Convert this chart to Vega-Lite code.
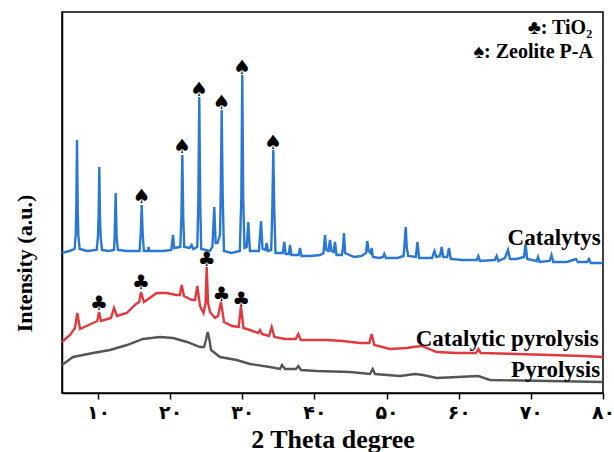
{
  "$schema": "https://vega.github.io/schema/vega-lite/v6.json",
  "width": 541,
  "height": 381,
  "autosize": {"type": "none"},
  "padding": {"left": 62, "top": 12, "right": 11, "bottom": 59},
  "background": "white",
  "config": {
    "view": {"stroke": "black", "strokeWidth": 1.5},
    "font": "Liberation Serif"
  },
  "datasets": {
    "lines": [
      {"s": "Catalytys", "x": 5.0, "y": 140}, {"s": "Catalytys", "x": 6.0, "y": 142}, {"s": "Catalytys", "x": 6.75, "y": 144}, {"s": "Catalytys", "x": 6.9, "y": 158}, {"s": "Catalytys", "x": 6.98, "y": 185}, {"s": "Catalytys", "x": 7.08, "y": 253}, {"s": "Catalytys", "x": 7.18, "y": 185}, {"s": "Catalytys", "x": 7.26, "y": 158}, {"s": "Catalytys", "x": 7.45, "y": 144},
      {"s": "Catalytys", "x": 8.5, "y": 142}, {"s": "Catalytys", "x": 9.8, "y": 143}, {"s": "Catalytys", "x": 9.98, "y": 156}, {"s": "Catalytys", "x": 10.07, "y": 175}, {"s": "Catalytys", "x": 10.17, "y": 226}, {"s": "Catalytys", "x": 10.27, "y": 175}, {"s": "Catalytys", "x": 10.36, "y": 156}, {"s": "Catalytys", "x": 10.55, "y": 143},
      {"s": "Catalytys", "x": 11.5, "y": 142}, {"s": "Catalytys", "x": 12.2, "y": 143}, {"s": "Catalytys", "x": 12.3, "y": 155}, {"s": "Catalytys", "x": 12.44, "y": 200}, {"s": "Catalytys", "x": 12.58, "y": 155}, {"s": "Catalytys", "x": 12.75, "y": 143},
      {"s": "Catalytys", "x": 14.0, "y": 142}, {"s": "Catalytys", "x": 15.75, "y": 142}, {"s": "Catalytys", "x": 15.92, "y": 160}, {"s": "Catalytys", "x": 16.05, "y": 188}, {"s": "Catalytys", "x": 16.18, "y": 160}, {"s": "Catalytys", "x": 16.35, "y": 142},
      {"s": "Catalytys", "x": 16.9, "y": 142}, {"s": "Catalytys", "x": 17.0, "y": 146}, {"s": "Catalytys", "x": 17.15, "y": 142}, {"s": "Catalytys", "x": 19.0, "y": 142}, {"s": "Catalytys", "x": 20.15, "y": 143}, {"s": "Catalytys", "x": 20.39, "y": 158}, {"s": "Catalytys", "x": 20.55, "y": 145},
      {"s": "Catalytys", "x": 21.4, "y": 146}, {"s": "Catalytys", "x": 21.55, "y": 175}, {"s": "Catalytys", "x": 21.68, "y": 238}, {"s": "Catalytys", "x": 21.81, "y": 175}, {"s": "Catalytys", "x": 21.95, "y": 146},
      {"s": "Catalytys", "x": 22.7, "y": 145}, {"s": "Catalytys", "x": 22.98, "y": 148}, {"s": "Catalytys", "x": 23.2, "y": 144}, {"s": "Catalytys", "x": 23.75, "y": 146}, {"s": "Catalytys", "x": 23.9, "y": 190}, {"s": "Catalytys", "x": 24.03, "y": 296}, {"s": "Catalytys", "x": 24.16, "y": 190}, {"s": "Catalytys", "x": 24.3, "y": 144},
      {"s": "Catalytys", "x": 25.5, "y": 142}, {"s": "Catalytys", "x": 25.85, "y": 146}, {"s": "Catalytys", "x": 26.11, "y": 186}, {"s": "Catalytys", "x": 26.3, "y": 150}, {"s": "Catalytys", "x": 26.55, "y": 150}, {"s": "Catalytys", "x": 26.9, "y": 158}, {"s": "Catalytys", "x": 27.01, "y": 200}, {"s": "Catalytys", "x": 27.14, "y": 283}, {"s": "Catalytys", "x": 27.27, "y": 200}, {"s": "Catalytys", "x": 27.45, "y": 142},
      {"s": "Catalytys", "x": 28.5, "y": 140}, {"s": "Catalytys", "x": 29.65, "y": 142}, {"s": "Catalytys", "x": 29.86, "y": 195}, {"s": "Catalytys", "x": 29.99, "y": 318}, {"s": "Catalytys", "x": 30.12, "y": 195}, {"s": "Catalytys", "x": 30.3, "y": 145},
      {"s": "Catalytys", "x": 30.6, "y": 146}, {"s": "Catalytys", "x": 30.83, "y": 171}, {"s": "Catalytys", "x": 31.05, "y": 142}, {"s": "Catalytys", "x": 32.3, "y": 142}, {"s": "Catalytys", "x": 32.59, "y": 172}, {"s": "Catalytys", "x": 32.8, "y": 144},
      {"s": "Catalytys", "x": 33.2, "y": 143}, {"s": "Catalytys", "x": 33.38, "y": 150}, {"s": "Catalytys", "x": 33.55, "y": 142}, {"s": "Catalytys", "x": 34.0, "y": 143}, {"s": "Catalytys", "x": 34.16, "y": 185}, {"s": "Catalytys", "x": 34.29, "y": 243}, {"s": "Catalytys", "x": 34.42, "y": 185}, {"s": "Catalytys", "x": 34.6, "y": 140},
      {"s": "Catalytys", "x": 35.6, "y": 140}, {"s": "Catalytys", "x": 35.82, "y": 151}, {"s": "Catalytys", "x": 36.0, "y": 139}, {"s": "Catalytys", "x": 36.45, "y": 139}, {"s": "Catalytys", "x": 36.61, "y": 148}, {"s": "Catalytys", "x": 36.8, "y": 138},
      {"s": "Catalytys", "x": 37.8, "y": 138}, {"s": "Catalytys", "x": 37.99, "y": 145}, {"s": "Catalytys", "x": 38.2, "y": 137}, {"s": "Catalytys", "x": 39.5, "y": 137}, {"s": "Catalytys", "x": 40.8, "y": 138},
      {"s": "Catalytys", "x": 41.25, "y": 140}, {"s": "Catalytys", "x": 41.46, "y": 158}, {"s": "Catalytys", "x": 41.65, "y": 143}, {"s": "Catalytys", "x": 41.95, "y": 142}, {"s": "Catalytys", "x": 42.15, "y": 153}, {"s": "Catalytys", "x": 42.35, "y": 142}, {"s": "Catalytys", "x": 42.65, "y": 141}, {"s": "Catalytys", "x": 42.85, "y": 151}, {"s": "Catalytys", "x": 43.05, "y": 138},
      {"s": "Catalytys", "x": 43.8, "y": 138}, {"s": "Catalytys", "x": 43.95, "y": 145}, {"s": "Catalytys", "x": 44.09, "y": 160}, {"s": "Catalytys", "x": 44.25, "y": 140}, {"s": "Catalytys", "x": 45.5, "y": 136}, {"s": "Catalytys", "x": 46.5, "y": 137},
      {"s": "Catalytys", "x": 47.15, "y": 140}, {"s": "Catalytys", "x": 47.32, "y": 152}, {"s": "Catalytys", "x": 47.5, "y": 142}, {"s": "Catalytys", "x": 47.78, "y": 140}, {"s": "Catalytys", "x": 47.93, "y": 145}, {"s": "Catalytys", "x": 48.1, "y": 136},
      {"s": "Catalytys", "x": 49.0, "y": 135}, {"s": "Catalytys", "x": 49.5, "y": 136}, {"s": "Catalytys", "x": 49.68, "y": 139}, {"s": "Catalytys", "x": 49.9, "y": 135}, {"s": "Catalytys", "x": 51.5, "y": 135},
      {"s": "Catalytys", "x": 52.35, "y": 137}, {"s": "Catalytys", "x": 52.5, "y": 150}, {"s": "Catalytys", "x": 52.65, "y": 166}, {"s": "Catalytys", "x": 52.8, "y": 145}, {"s": "Catalytys", "x": 53.0, "y": 137},
      {"s": "Catalytys", "x": 54.05, "y": 136}, {"s": "Catalytys", "x": 54.28, "y": 151}, {"s": "Catalytys", "x": 54.5, "y": 135}, {"s": "Catalytys", "x": 56.3, "y": 135}, {"s": "Catalytys", "x": 56.64, "y": 142}, {"s": "Catalytys", "x": 56.9, "y": 136},
      {"s": "Catalytys", "x": 57.4, "y": 137}, {"s": "Catalytys", "x": 57.64, "y": 146}, {"s": "Catalytys", "x": 57.85, "y": 136}, {"s": "Catalytys", "x": 58.4, "y": 136}, {"s": "Catalytys", "x": 58.65, "y": 145}, {"s": "Catalytys", "x": 58.9, "y": 134},
      {"s": "Catalytys", "x": 60.5, "y": 133}, {"s": "Catalytys", "x": 62.5, "y": 133}, {"s": "Catalytys", "x": 62.71, "y": 137}, {"s": "Catalytys", "x": 62.95, "y": 132}, {"s": "Catalytys", "x": 65.0, "y": 133}, {"s": "Catalytys", "x": 65.26, "y": 137}, {"s": "Catalytys", "x": 65.5, "y": 132},
      {"s": "Catalytys", "x": 66.4, "y": 135}, {"s": "Catalytys", "x": 66.83, "y": 143}, {"s": "Catalytys", "x": 67.1, "y": 134}, {"s": "Catalytys", "x": 68.0, "y": 134}, {"s": "Catalytys", "x": 69.05, "y": 136}, {"s": "Catalytys", "x": 69.26, "y": 149}, {"s": "Catalytys", "x": 69.5, "y": 134},
      {"s": "Catalytys", "x": 70.8, "y": 132}, {"s": "Catalytys", "x": 70.99, "y": 136}, {"s": "Catalytys", "x": 71.2, "y": 131}, {"s": "Catalytys", "x": 72.6, "y": 132}, {"s": "Catalytys", "x": 72.86, "y": 138}, {"s": "Catalytys", "x": 73.1, "y": 131},
      {"s": "Catalytys", "x": 75.0, "y": 131}, {"s": "Catalytys", "x": 76.26, "y": 134}, {"s": "Catalytys", "x": 76.5, "y": 131}, {"s": "Catalytys", "x": 77.8, "y": 131}, {"s": "Catalytys", "x": 78.06, "y": 134}, {"s": "Catalytys", "x": 78.3, "y": 130}, {"s": "Catalytys", "x": 80.0, "y": 130},

      {"s": "Catalytic pyrolysis", "x": 5.0, "y": 51}, {"s": "Catalytic pyrolysis", "x": 6.11, "y": 58}, {"s": "Catalytic pyrolysis", "x": 6.8, "y": 65}, {"s": "Catalytic pyrolysis", "x": 7.12, "y": 80}, {"s": "Catalytic pyrolysis", "x": 7.5, "y": 64},
      {"s": "Catalytic pyrolysis", "x": 9.3, "y": 70}, {"s": "Catalytic pyrolysis", "x": 9.9, "y": 72}, {"s": "Catalytic pyrolysis", "x": 10.13, "y": 81}, {"s": "Catalytic pyrolysis", "x": 10.41, "y": 72}, {"s": "Catalytic pyrolysis", "x": 11.79, "y": 75}, {"s": "Catalytic pyrolysis", "x": 12.21, "y": 85}, {"s": "Catalytic pyrolysis", "x": 12.62, "y": 77},
      {"s": "Catalytic pyrolysis", "x": 13.97, "y": 80}, {"s": "Catalytic pyrolysis", "x": 15.26, "y": 89}, {"s": "Catalytic pyrolysis", "x": 15.7, "y": 91}, {"s": "Catalytic pyrolysis", "x": 15.95, "y": 101}, {"s": "Catalytic pyrolysis", "x": 16.37, "y": 91}, {"s": "Catalytic pyrolysis", "x": 18.13, "y": 100}, {"s": "Catalytic pyrolysis", "x": 19.51, "y": 100},
      {"s": "Catalytic pyrolysis", "x": 20.8, "y": 98}, {"s": "Catalytic pyrolysis", "x": 21.35, "y": 98}, {"s": "Catalytic pyrolysis", "x": 21.59, "y": 108}, {"s": "Catalytic pyrolysis", "x": 21.91, "y": 97}, {"s": "Catalytic pyrolysis", "x": 23.02, "y": 93}, {"s": "Catalytic pyrolysis", "x": 23.45, "y": 93}, {"s": "Catalytic pyrolysis", "x": 23.76, "y": 107}, {"s": "Catalytic pyrolysis", "x": 24.13, "y": 87},
      {"s": "Catalytic pyrolysis", "x": 24.62, "y": 80}, {"s": "Catalytic pyrolysis", "x": 24.9, "y": 90}, {"s": "Catalytic pyrolysis", "x": 25.06, "y": 126}, {"s": "Catalytic pyrolysis", "x": 25.25, "y": 90}, {"s": "Catalytic pyrolysis", "x": 25.52, "y": 81}, {"s": "Catalytic pyrolysis", "x": 26.21, "y": 75}, {"s": "Catalytic pyrolysis", "x": 26.63, "y": 77},
      {"s": "Catalytic pyrolysis", "x": 27.04, "y": 91}, {"s": "Catalytic pyrolysis", "x": 27.46, "y": 71}, {"s": "Catalytic pyrolysis", "x": 28.57, "y": 67}, {"s": "Catalytic pyrolysis", "x": 29.5, "y": 66}, {"s": "Catalytic pyrolysis", "x": 29.81, "y": 87}, {"s": "Catalytic pyrolysis", "x": 30.15, "y": 65},
      {"s": "Catalytic pyrolysis", "x": 31.06, "y": 63}, {"s": "Catalytic pyrolysis", "x": 32.2, "y": 60}, {"s": "Catalytic pyrolysis", "x": 32.45, "y": 63}, {"s": "Catalytic pyrolysis", "x": 32.7, "y": 59}, {"s": "Catalytic pyrolysis", "x": 33.7, "y": 57}, {"s": "Catalytic pyrolysis", "x": 34.07, "y": 66}, {"s": "Catalytic pyrolysis", "x": 34.45, "y": 56},
      {"s": "Catalytic pyrolysis", "x": 35.92, "y": 54}, {"s": "Catalytic pyrolysis", "x": 37.4, "y": 54}, {"s": "Catalytic pyrolysis", "x": 37.76, "y": 59}, {"s": "Catalytic pyrolysis", "x": 38.1, "y": 53}, {"s": "Catalytic pyrolysis", "x": 41.7, "y": 53}, {"s": "Catalytic pyrolysis", "x": 43.95, "y": 52},
      {"s": "Catalytic pyrolysis", "x": 46.31, "y": 50}, {"s": "Catalytic pyrolysis", "x": 47.6, "y": 50}, {"s": "Catalytic pyrolysis", "x": 47.93, "y": 59}, {"s": "Catalytic pyrolysis", "x": 48.3, "y": 48}, {"s": "Catalytic pyrolysis", "x": 50.47, "y": 44},
      {"s": "Catalytic pyrolysis", "x": 52.78, "y": 45}, {"s": "Catalytic pyrolysis", "x": 53.66, "y": 46}, {"s": "Catalytic pyrolysis", "x": 54.86, "y": 47}, {"s": "Catalytic pyrolysis", "x": 56.94, "y": 41}, {"s": "Catalytic pyrolysis", "x": 59.72, "y": 40},
      {"s": "Catalytic pyrolysis", "x": 62.4, "y": 40}, {"s": "Catalytic pyrolysis", "x": 62.71, "y": 44}, {"s": "Catalytic pyrolysis", "x": 63.05, "y": 40}, {"s": "Catalytic pyrolysis", "x": 68.03, "y": 39}, {"s": "Catalytic pyrolysis", "x": 72.65, "y": 38}, {"s": "Catalytic pyrolysis", "x": 77.23, "y": 37}, {"s": "Catalytic pyrolysis", "x": 80.0, "y": 36},

      {"s": "Pyrolysis", "x": 5.0, "y": 28}, {"s": "Pyrolysis", "x": 6.52, "y": 36}, {"s": "Pyrolysis", "x": 9.3, "y": 40}, {"s": "Pyrolysis", "x": 11.65, "y": 43}, {"s": "Pyrolysis", "x": 14.01, "y": 48}, {"s": "Pyrolysis", "x": 16.23, "y": 54}, {"s": "Pyrolysis", "x": 18.59, "y": 56},
      {"s": "Pyrolysis", "x": 20.39, "y": 55}, {"s": "Pyrolysis", "x": 22.33, "y": 51}, {"s": "Pyrolysis", "x": 24.13, "y": 46}, {"s": "Pyrolysis", "x": 24.69, "y": 46}, {"s": "Pyrolysis", "x": 24.96, "y": 53}, {"s": "Pyrolysis", "x": 25.2, "y": 61}, {"s": "Pyrolysis", "x": 25.45, "y": 53}, {"s": "Pyrolysis", "x": 25.66, "y": 43},
      {"s": "Pyrolysis", "x": 26.9, "y": 36}, {"s": "Pyrolysis", "x": 29.22, "y": 33}, {"s": "Pyrolysis", "x": 31.06, "y": 29}, {"s": "Pyrolysis", "x": 33.83, "y": 26}, {"s": "Pyrolysis", "x": 35.22, "y": 24}, {"s": "Pyrolysis", "x": 35.5, "y": 28}, {"s": "Pyrolysis", "x": 35.92, "y": 24},
      {"s": "Pyrolysis", "x": 37.44, "y": 24}, {"s": "Pyrolysis", "x": 37.76, "y": 27}, {"s": "Pyrolysis", "x": 38.13, "y": 23}, {"s": "Pyrolysis", "x": 40.31, "y": 22}, {"s": "Pyrolysis", "x": 44.93, "y": 21}, {"s": "Pyrolysis", "x": 47.7, "y": 19}, {"s": "Pyrolysis", "x": 48.07, "y": 24}, {"s": "Pyrolysis", "x": 48.39, "y": 19},
      {"s": "Pyrolysis", "x": 51.86, "y": 17}, {"s": "Pyrolysis", "x": 53.94, "y": 19}, {"s": "Pyrolysis", "x": 55.05, "y": 18}, {"s": "Pyrolysis", "x": 56.94, "y": 15}, {"s": "Pyrolysis", "x": 62.71, "y": 17}, {"s": "Pyrolysis", "x": 64.33, "y": 13}, {"s": "Pyrolysis", "x": 72.65, "y": 12}, {"s": "Pyrolysis", "x": 80.0, "y": 11}
    ],
    "symbols": [
      {"sym": "♠", "x": 16.05, "y": 196}, {"sym": "♠", "x": 21.68, "y": 246}, {"sym": "♠", "x": 24.03, "y": 303}, {"sym": "♠", "x": 27.14, "y": 290}, {"sym": "♠", "x": 29.99, "y": 325}, {"sym": "♠", "x": 34.29, "y": 250},
      {"sym": "♣", "x": 10.13, "y": 89}, {"sym": "♣", "x": 15.95, "y": 110}, {"sym": "♣", "x": 25.06, "y": 133}, {"sym": "♣", "x": 27.1, "y": 98}, {"sym": "♣", "x": 29.85, "y": 93}
    ],
    "labels": [
      {"t": "Catalytys", "x": 79.7, "y": 148},
      {"t": "Catalytic pyrolysis", "x": 79.4, "y": 47},
      {"t": "Pyrolysis", "x": 79.6, "y": 16}
    ],
    "legend": [
      {"t": "♣: TiO₂", "x": 78.5, "y": 359},
      {"t": "♠: Zeolite P-A", "x": 78.6, "y": 335}
    ]
  },
  "layer": [
    {
      "data": {"name": "lines"},
      "mark": {"type": "line", "strokeWidth": 2.4},
      "encoding": {
        "x": {
          "field": "x", "type": "quantitative",
          "scale": {"domain": [5, 80], "nice": false, "zero": false},
          "axis": {
            "title": "2 Theta degree",
            "titleFont": "Liberation Serif", "titleFontSize": 26, "titleFontWeight": "bold", "titleColor": "black",
            "titlePadding": 4,
            "values": [10, 15, 20, 25, 30, 35, 40, 45, 50, 55, 60, 65, 70, 75, 80],
            "labelExpr": "datum.value==10?'۱۰':datum.value==20?'۲۰':datum.value==30?'۳۰':datum.value==40?'۴۰':datum.value==50?'۵۰':datum.value==60?'۶۰':datum.value==70?'۷۰':datum.value==80?'۸۰':''",
            "labelFont": "DejaVu Sans", "labelFontSize": 19, "labelFontWeight": "bold", "labelColor": "black",
            "labelPadding": 4, "labelFlush": false, "labelOverlap": false,
            "tickSize": 6, "tickColor": "black", "tickWidth": 1.5,
            "domainColor": "black", "domainWidth": 1.5, "grid": false
          }
        },
        "y": {
          "field": "y", "type": "quantitative",
          "scale": {"domain": [0, 381], "nice": false, "zero": false},
          "axis": {
            "title": "Intensity (a.u.)",
            "titleFont": "Liberation Serif", "titleFontSize": 22, "titleFontWeight": "bold", "titleColor": "black",
            "titleX": -38, "titleY": 251, "titleAngle": -90, "titleAlign": "center", "titleBaseline": "middle",
            "ticks": false, "labels": false, "grid": false,
            "domainColor": "black", "domainWidth": 1.5
          }
        },
        "color": {
          "field": "s", "type": "nominal",
          "scale": {"domain": ["Catalytys", "Catalytic pyrolysis", "Pyrolysis"], "range": ["#2a78d4", "#e0393e", "#555555"]},
          "legend": null
        }
      }
    },
    {
      "data": {"name": "symbols"},
      "mark": {"type": "text", "fontSize": 20, "fontWeight": "bold", "font": "DejaVu Sans", "baseline": "middle", "align": "center", "color": "black"},
      "encoding": {
        "x": {"field": "x", "type": "quantitative"},
        "y": {"field": "y", "type": "quantitative"},
        "text": {"field": "sym"}
      }
    },
    {
      "data": {"name": "labels"},
      "mark": {"type": "text", "fontSize": 23, "fontWeight": "bold", "font": "Liberation Serif", "baseline": "alphabetic", "align": "right", "color": "black"},
      "encoding": {
        "x": {"field": "x", "type": "quantitative"},
        "y": {"field": "y", "type": "quantitative"},
        "text": {"field": "t"}
      }
    },
    {
      "data": {"name": "legend"},
      "mark": {"type": "text", "fontSize": 20, "fontWeight": "bold", "font": "Liberation Serif", "baseline": "alphabetic", "align": "right", "color": "black"},
      "encoding": {
        "x": {"field": "x", "type": "quantitative"},
        "y": {"field": "y", "type": "quantitative"},
        "text": {"field": "t"}
      }
    }
  ]
}
